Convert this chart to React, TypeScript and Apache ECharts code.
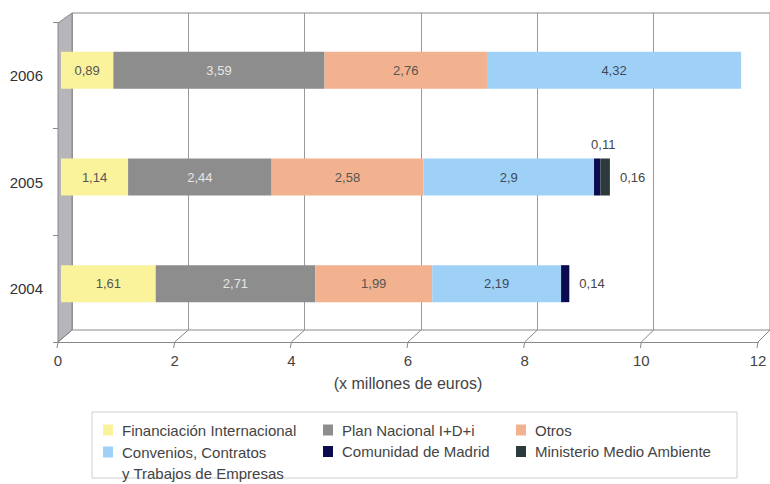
import React, { useEffect, useRef } from "react";
import * as echarts from "echarts";

const years = ["2004", "2005", "2006"];
const financiacion = [1.61, 1.14, 0.89];
const planNacional = [2.71, 2.44, 3.59];
const otros = [1.99, 2.58, 2.76];
const convenios = [2.19, 2.9, 4.32];
const comunidad = [0.14, 0.11, 0];
const ministerio = [0, 0.16, 0];
const xMin = 0;
const xMax = 12;
const xStep = 2;
const seriesNames = [
  "Financiación Internacional",
  "Plan Nacional I+D+i",
  "Otros",
  "Convenios, Contratos\ny Trabajos de Empresas",
  "Comunidad de Madrid",
  "Ministerio Medio Ambiente",
];
const colors = ["#faf39c", "#8d8d8d", "#f3b28f", "#9fd0f6", "#0b0b4f", "#2d3a3c"];
const labelColors = ["#555", "#e6e6e6", "#555", "#3d4c5c", "#444", "#444"];
const axisName = "(x millones de euros)";

const FONT = "Liberation Sans, Arial, sans-serif";

// layout
const FRONT = { left: 58, right: 12, top: 22, bottom: 142 };
const BACK = { left: 72, right: -2, top: 13, bottom: 154 };
const BARS = { left: 61, right: 3, top: 17, bottom: 147 };
const W = 770;
const H = 484;

const fmt = (p: any) => {
  const v = typeof p.value === "number" ? p.value : Number(p.value);
  return v ? String(v).replace(".", ",") : "";
};

export default function App() {
  const ref = useRef<HTMLDivElement>(null);
  useEffect(() => {
    if (!ref.current) return;
    const chart = echarts.init(ref.current, null, { renderer: "svg" });
    const rawData = [financiacion, planNacional, otros, convenios, comunidad, ministerio];
    const dataFor = (i: number) => {
      if (i === 4) {
        return [
          { value: comunidad[0], label: { position: "right", distance: 10 } },
          { value: comunidad[1], label: { position: "top", distance: 8, offset: [6, 0] } },
          comunidad[2],
        ];
      }
      if (i === 5) {
        return [
          ministerio[0],
          { value: ministerio[1], label: { position: "right", distance: 10 } },
          ministerio[2],
        ];
      }
      return rawData[i];
    };
    const series = seriesNames.map((name, i) => ({
      name,
      type: "bar",
      stack: "total",
      xAxisIndex: 2,
      yAxisIndex: 2,
      barWidth: 37,
      data: dataFor(i),
      itemStyle: { color: colors[i] },
      label: {
        show: true,
        position: "inside",
        formatter: fmt,
        color: labelColors[i],
        fontSize: 13,
        fontFamily: FONT,
      },
    }));

    const legendBase = {
      icon: "rect",
      itemWidth: 10,
      itemHeight: 11,
      selectedMode: false,
      orient: "vertical",
      itemGap: 6.5,
      textStyle: { color: "#444", fontSize: 15, fontFamily: FONT, padding: [0, 0, 0, 4] },
    };

    chart.setOption({
      animation: false,
      grid: [
        { ...BACK, show: true, borderColor: "#8a8a8a", borderWidth: 1, backgroundColor: "#fff" },
        { ...FRONT },
        { ...BARS },
      ],
      xAxis: [
        {
          gridIndex: 0, type: "value", min: xMin, max: xMax, interval: xStep,
          axisLabel: { show: false }, axisLine: { show: false }, axisTick: { show: false },
          splitLine: { show: true, lineStyle: { color: "#999", width: 1 } },
        },
        {
          gridIndex: 1, type: "value", min: xMin, max: xMax, interval: xStep,
          axisLine: { show: true, lineStyle: { color: "#888" } },
          axisTick: { show: false },
          splitLine: { show: false },
          axisLabel: { color: "#444", fontSize: 15, fontFamily: FONT, margin: 11 },
          name: axisName, nameLocation: "middle", nameGap: 33,
          nameTextStyle: { color: "#444", fontSize: 16, fontFamily: FONT },
        },
        { gridIndex: 2, type: "value", min: xMin, max: xMax, show: false },
      ],
      yAxis: [
        { gridIndex: 0, type: "category", data: years, show: false },
        {
          gridIndex: 1, type: "category", data: years,
          axisLine: { show: false },
          axisTick: { show: true, length: 5, lineStyle: { color: "#888" } },
          axisLabel: { color: "#333", fontSize: 15, fontFamily: FONT, margin: 15 },
          splitLine: { show: false },
        },
        { gridIndex: 2, type: "category", data: years, show: false },
      ],
      legend: [
        { ...legendBase, data: [seriesNames[0]], left: 98, top: 417.5 },
        { ...legendBase, data: [seriesNames[1], seriesNames[4]], left: 318, top: 417.5 },
        { ...legendBase, data: [seriesNames[2], seriesNames[5]], left: 511, top: 417.5 },
        {
          ...legendBase, data: [seriesNames[3]], left: 98, top: 415.5,
          formatter: (name: string) => "\n" + name,
          textStyle: { ...legendBase.textStyle, lineHeight: 21 },
        },
      ],
      series,
    });

    // 3D frame decorations derived from layout and axes
    const frontY = H - FRONT.bottom;
    const backY = H - BACK.bottom;
    const ticks: number[] = [];
    for (let v = xMin; v <= xMax; v += xStep) ticks.push(v);
    const graphics: any[] = [];
    graphics.push({
      type: "polygon",
      z: 0,
      shape: {
        points: [
          [FRONT.left, FRONT.top + 1],
          [BACK.left, BACK.top],
          [BACK.left, backY],
          [FRONT.left, frontY],
        ],
      },
      style: { fill: "#b5b5ba", stroke: "#8a8a8a", lineWidth: 1 },
    });
    ticks.forEach((v) => {
      const fx = chart.convertToPixel({ xAxisIndex: 1 }, v) as number;
      const bx = chart.convertToPixel({ xAxisIndex: 0 }, v) as number;
      graphics.push({
        type: "polyline",
        z: 5,
        shape: { points: [[bx, backY], [fx, frontY], [fx - 1, frontY + 6]] },
        style: { stroke: "#888", lineWidth: 1, fill: null },
      });
    });
    graphics.push({
      type: "rect",
      z: 0,
      shape: { x: 92, y: 412, width: 645, height: 66 },
      style: { fill: "none", stroke: "#cfcfcf", lineWidth: 1 },
    });
    chart.setOption({ graphic: graphics });

    return () => chart.dispose();
  }, []);
  return (
    <div
      ref={ref}
      style={{ position: "fixed", left: 0, top: 0, width: W, height: H, background: "#fff" }}
    />
  );
}
